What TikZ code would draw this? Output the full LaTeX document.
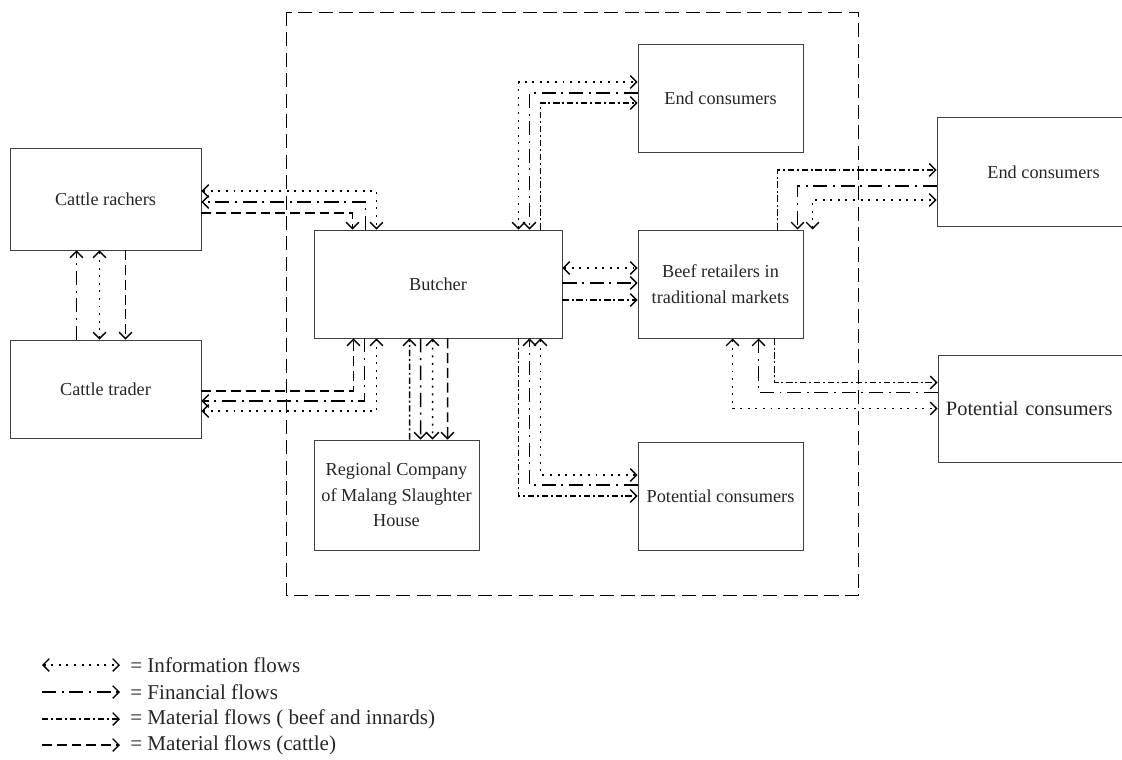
\documentclass[tikz,border=0pt]{standalone}
\usepackage{fontspec}
\setmainfont{Liberation Serif}
\usetikzlibrary{calc}
\usetikzlibrary{arrows.meta}

\tikzset{
	box/.style={draw=black!75, line width=0.6pt, inner sep=0pt, align=center, text=black!85, font=\fontsize{13}{18}\selectfont},
	legtext/.style={anchor=west, inner sep=0pt, text=black!85, font=\fontsize{15}{18}\selectfont},
	info/.style={line width=1pt, dash pattern=on 1.4pt off 4pt},
	money/.style={line width=1pt, dash pattern=on 10pt off 4pt on 1.4pt off 4pt},
	beef/.style={line width=1pt, dash pattern=on 4.5pt off 2pt on 1.4pt off 2pt},
	cattle/.style={line width=1pt, dash pattern=on 7pt off 3.5pt},
}

\begin{document}
\begin{tikzpicture}[x=0.025cm, y=-0.025cm, >={Straight Barb[length=4.5pt, width=9pt]}]
			% \draw[very thin, gray, dashed](0, 0)grid[step=50](1122, 760);
			\useasboundingbox (0, 0) rectangle (1122, 760);

			\draw[line width=0.6pt, dash pattern=on 10pt off 4.5pt] (286, 12) rectangle (858, 595);

			\node[box, minimum width=4.775cm, minimum height=2.55cm] (rachers) at (105.5, 199) {Cattle rachers};
			\node[box, minimum width=4.775cm, minimum height=2.45cm] (trader) at (105.5, 389) {Cattle trader};
			\node[box, minimum width=6.2cm, minimum height=2.7cm] (butcher) at (438, 284) {Butcher};
			\node[box, minimum width=4.125cm, minimum height=2.75cm] (rphm) at (396.5, 495) {Regional Company\\of Malang Slaughter\\House};
			\node[box, minimum width=4.125cm, minimum height=2.7cm] (endin) at (720.5, 98) {End consumers};
			\node[box, minimum width=4.125cm, minimum height=2.7cm] (retail) at (720.5, 284) {Beef retailers in\\traditional markets};
			\node[box, minimum width=4.125cm, minimum height=2.7cm] (potin) at (720.5, 496) {Potential consumers};
			\node[box, minimum width=5.325cm, minimum height=2.725cm] (endout) at (1043.5, 172) {End consumers};
			\node[box, minimum height=2.675cm, align=left, text width=5.15cm, inner xsep=0.2cm, font=\fontsize{14.5}{18}\selectfont] (potout) at (1049, 408.5) {Potential consumers};

			% ranchers and butcher
			\draw[info, <->] ($(rachers.east)+(0, -8)$) -| ($(butcher.north west)+(63, 0)$);
			\draw[money, ->] ($(butcher.north west)+(52, 0)$) |- ($(rachers.east)+(0, 3)$);
			\draw[cattle, ->] ($(rachers.east)+(0, 14)$) -| ($(butcher.north west)+(39, 0)$);

			% ranchers and trader
			\draw[money, ->] ($(trader.north west)+(67, 0)$)--($(rachers.south west)+(67, 0)$);
			\draw[info, <->] ($(trader.north west)+(90, 0)$)--($(rachers.south west)+(90, 0)$);
			\draw[cattle, ->] ($(rachers.south west)+(116, 0)$)--($(trader.north west)+(116, 0)$);

			% trader and butcher
			\draw[cattle, ->] ($(trader.east)+(0, 2)$) -| ($(butcher.south west)+(40, 0)$);
			\draw[money, ->] ($(butcher.south west)+(51, 0)$) |- ($(trader.east)+(0, 12)$);
			\draw[info, <->] ($(trader.east)+(0, 22)$) -| ($(butcher.south west)+(63, 0)$);

			% butcher and slaughter house
			\draw[beef, ->] ($(rphm.north west)+(96, 0)$)--($(butcher.south west)+(96, 0)$);
			\draw[money, ->] ($(butcher.south west)+(107, 0)$)--($(rphm.north west)+(107, 0)$);
			\draw[info, <->] ($(butcher.south west)+(119, 0)$)--($(rphm.north west)+(119, 0)$);
			\draw[cattle, ->] ($(butcher.south west)+(134, 0)$)--($(rphm.north west)+(134, 0)$);

			% butcher and end consumers
			\draw[info, <->] ($(butcher.north west)+(205, 0)$) |- ($(endin.west)+(0, -16)$);
			\draw[money, ->] ($(endin.west)+(0, -5)$) -| ($(butcher.north west)+(216, 0)$);
			\draw[beef, ->] ($(butcher.north west)+(227, 0)$) |- ($(endin.west)+(0, 5)$);

			% butcher and retailers
			\draw[info, <->] ($(butcher.east)+(0, -16)$)--($(retail.west)+(0, -16)$);
			\draw[money, ->] ($(butcher.east)+(0, -1)$)--($(retail.west)+(0, -1)$);
			\draw[beef, ->] ($(butcher.east)+(0, 16)$)--($(retail.west)+(0, 16)$);

			% butcher and potential consumers
			\draw[beef, ->] ($(butcher.south west)+(205, 0)$) |- (potin.west);
			\draw[money, ->] ($(potin.west)+(0, -11)$) -| ($(butcher.south west)+(216, 0)$);
			\draw[info, <->] ($(butcher.south west)+(227, 0)$) |- ($(potin.west)+(0, -21)$);

			% retailers and end consumers
			\draw[beef, ->] ($(retail.north west)+(140, 0)$) |- ($(endout.west)+(0, -2)$);
			\draw[money, ->] ($(endout.west)+(0, 14)$) -| ($(retail.north west)+(160, 0)$);
			\draw[info, <->] ($(retail.north west)+(175, 0)$) |- ($(endout.west)+(0, 28)$);

			% retailers and potential consumers
			\draw[info, <->] ($(retail.south west)+(95, 0)$) |- (potout.west);
			\draw[money, ->] ($(potout.west)+(0, -16)$) -| ($(retail.south west)+(121, 0)$);
			\draw[beef, ->] ($(retail.south west)+(137, 0)$) |- ($(potout.west)+(0, -26)$);

			% legend
			\coordinate (inf_a) at (42, 665);
			\coordinate (inf_b) at (120, 665);
			\coordinate (fin_a) at (42, 692);
			\coordinate (fin_b) at (120, 692);
			\coordinate (beef_a) at (42, 719);
			\coordinate (beef_b) at (120, 719);
			\coordinate (cat_a) at (42, 745);
			\coordinate (cat_b) at (120, 745);
			\draw[info, <->] (inf_a)--(inf_b);
			\draw[money, ->] (fin_a)--(fin_b);
			\draw[beef, ->] (beef_a)--(beef_b);
			\draw[cattle, ->] (cat_a)--(cat_b);
			\node[legtext] (inf_t) at ($(inf_b)+(10, 0)$) {= Information flows};
			\node[legtext] (fin_t) at ($(fin_b)+(10, 0)$) {= Financial flows};
			\node[legtext] (beef_t) at ($(beef_b)+(10, 0)$) {= Material flows ( beef and innards)};
			\node[legtext] (cat_t) at ($(cat_b)+(10, 0)$) {= Material flows (cattle)};
		\end{tikzpicture}
\end{document}
